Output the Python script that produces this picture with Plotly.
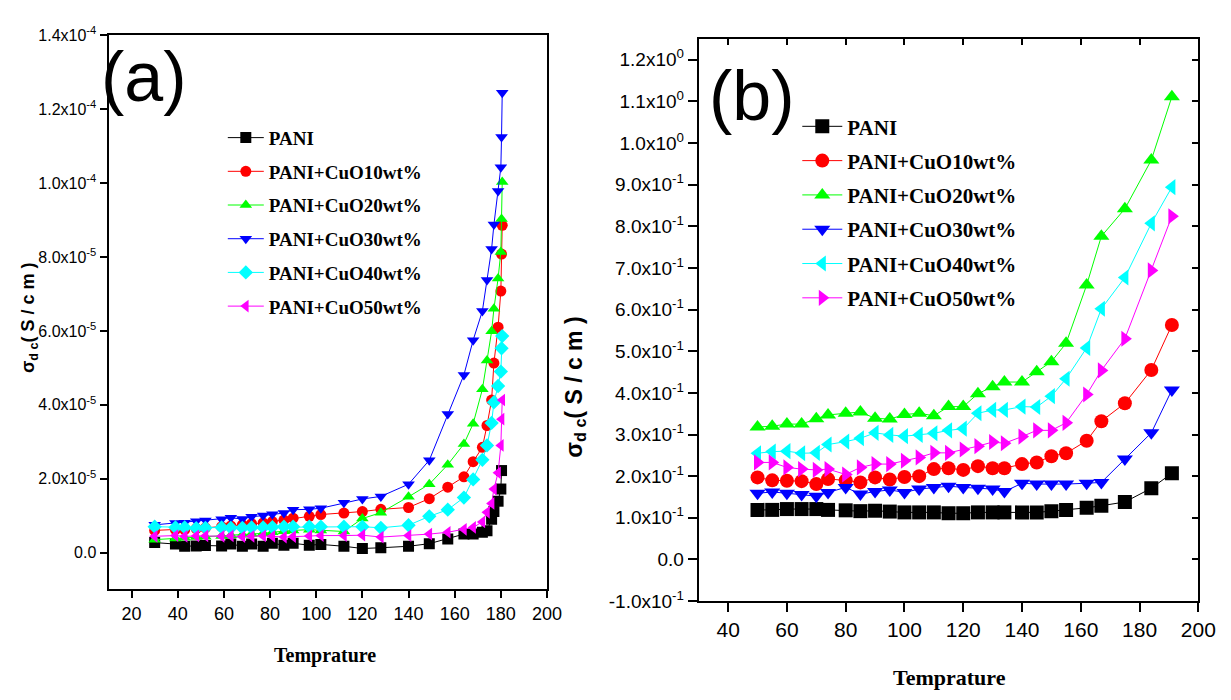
import plotly.graph_objects as go

W, H = 1231, 700

# ---------------- Panel (a) data (sigma_dc in units of 1e-5 S/cm) ----------------
TEMP_A = [30, 39, 43, 48, 52, 59, 63, 68, 72, 77, 81, 86, 90, 97, 102, 112, 120, 128,
          140, 149, 157, 164, 168, 172, 174, 176, 177, 178.8, 180, 180.3, 180.6]
PANI_A = [0.27, 0.23, 0.17, 0.18, 0.19, 0.18, 0.23, 0.17, 0.23, 0.17, 0.25, 0.20, 0.25, 0.20, 0.22,
          0.17, 0.11, 0.13, 0.17, 0.24, 0.37, 0.50, 0.50, 0.55, 0.59, 0.90, 1.11, 1.39, 1.72, 2.22]
CUO10_A = [0.60, 0.62, 0.62, 0.65, 0.67, 0.70, 0.72, 0.75, 0.78, 0.80, 0.84, 0.88, 0.93, 0.98, 1.03,
           1.07, 1.11, 1.17, 1.22, 1.46, 1.77, 2.05, 2.46, 2.85, 3.44, 4.13, 5.13, 6.10, 7.08, 8.08, 8.86]
CUO20_A = [0.35, 0.38, 0.40, 0.42, 0.43, 0.45, 0.47, 0.48, 0.50, 0.52, 0.55, 0.58, 0.60, 0.62, 0.60,
           0.57, 0.92, 1.08, 1.51, 1.85, 2.38, 2.94, 3.49, 4.42, 5.20, 5.99, 6.60, 7.42, 8.14, 9.03, 10.03]
CUO30_A = [0.75, 0.80, 0.81, 0.85, 0.87, 0.90, 0.94, 0.91, 0.97, 1.00, 1.04, 1.07, 1.16, 1.17, 1.20,
           1.35, 1.45, 1.52, 1.85, 2.50, 3.75, 4.81, 5.75, 6.54, 7.38, 8.22, 8.88, 9.79, 10.43, 11.25, 12.45]
CUO40_A = [0.70, 0.68, 0.68, 0.66, 0.67, 0.68, 0.67, 0.67, 0.68, 0.68, 0.69, 0.70, 0.70, 0.70, 0.70,
           0.70, 0.70, 0.67, 0.74, 0.98, 1.16, 1.49, 1.98, 2.51, 2.90, 3.51, 4.07, 4.51, 4.90, 5.53, 5.86]
CUO50_A = [0.44, 0.46, 0.44, 0.45, 0.45, 0.44, 0.45, 0.43, 0.44, 0.45, 0.44, 0.42, 0.43, 0.45, 0.46,
           0.46, 0.47, 0.42, 0.46, 0.50, 0.55, 0.63, 0.68, 0.83, 1.09, 1.33, 1.72, 2.16, 2.90, 3.61, 4.13]
UNIT_A = 1e-5

YTICKS_A = [0, 2e-5, 4e-5, 6e-5, 8e-5, 1.0e-4, 1.2e-4, 1.4e-4]
YLABELS_A = ["0.0", "2.0x10<sup>-5</sup>", "4.0x10<sup>-5</sup>", "6.0x10<sup>-5</sup>",
             "8.0x10<sup>-5</sup>", "1.0x10<sup>-4</sup>", "1.2x10<sup>-4</sup>", "1.4x10<sup>-4</sup>"]
XTICKS_A = [20, 40, 60, 80, 100, 120, 140, 160, 180, 200]

# ---------------- Panel (b) data (sigma_dc in S/cm) ----------------
TEMP_B = [50, 55, 60, 65, 70, 74, 80, 85, 90, 95, 100, 105, 110, 115, 120, 125, 130, 134,
          140, 145, 150, 155, 162, 167, 175, 184, 191]
PANI_B = [0.119, 0.119, 0.121, 0.121, 0.121, 0.119, 0.118, 0.116, 0.117, 0.115, 0.113, 0.113, 0.113,
          0.111, 0.111, 0.113, 0.113, 0.113, 0.113, 0.113, 0.116, 0.119, 0.124, 0.129, 0.138, 0.171, 0.207]
CUO10_B = [0.197, 0.190, 0.189, 0.188, 0.181, 0.193, 0.190, 0.185, 0.197, 0.192, 0.198, 0.200, 0.217,
           0.219, 0.215, 0.224, 0.219, 0.219, 0.229, 0.233, 0.248, 0.255, 0.285, 0.332, 0.375, 0.455, 0.563]
CUO20_B = [0.318, 0.320, 0.325, 0.325, 0.338, 0.347, 0.351, 0.354, 0.339, 0.337, 0.348, 0.351, 0.345,
           0.367, 0.367, 0.398, 0.415, 0.426, 0.426, 0.451, 0.475, 0.519, 0.659, 0.776, 0.842, 0.959, 1.111]
CUO30_B = [0.159, 0.162, 0.159, 0.156, 0.152, 0.161, 0.173, 0.157, 0.163, 0.167, 0.161, 0.169, 0.173,
           0.176, 0.173, 0.171, 0.169, 0.163, 0.183, 0.181, 0.181, 0.181, 0.183, 0.185, 0.241, 0.304, 0.407]
CUO40_B = [0.255, 0.259, 0.260, 0.255, 0.256, 0.276, 0.283, 0.291, 0.304, 0.299, 0.296, 0.299, 0.303,
           0.310, 0.314, 0.351, 0.359, 0.359, 0.367, 0.366, 0.392, 0.434, 0.508, 0.602, 0.677, 0.807, 0.894]
CUO50_B = [0.233, 0.233, 0.221, 0.217, 0.215, 0.217, 0.204, 0.221, 0.229, 0.229, 0.237, 0.245, 0.256,
           0.256, 0.264, 0.272, 0.282, 0.279, 0.295, 0.310, 0.310, 0.328, 0.396, 0.454, 0.530, 0.694, 0.824]

YTICKS_B = [-0.1, 0.0, 0.1, 0.2, 0.3, 0.4, 0.5, 0.6, 0.7, 0.8, 0.9, 1.0, 1.1, 1.2]
YLABELS_B = ["-1.0x10<sup>-1</sup>", "0.0", "1.0x10<sup>-1</sup>", "2.0x10<sup>-1</sup>",
             "3.0x10<sup>-1</sup>", "4.0x10<sup>-1</sup>", "5.0x10<sup>-1</sup>", "6.0x10<sup>-1</sup>",
             "7.0x10<sup>-1</sup>", "8.0x10<sup>-1</sup>", "9.0x10<sup>-1</sup>", "1.0x10<sup>0</sup>",
             "1.1x10<sup>0</sup>", "1.2x10<sup>0</sup>"]
XTICKS_B = [40, 60, 80, 100, 120, 140, 160, 180, 200]

NAMES = ["PANI", "PANI+CuO10wt%", "PANI+CuO20wt%", "PANI+CuO30wt%", "PANI+CuO40wt%", "PANI+CuO50wt%"]
COLORS = ["#000000", "#FF0000", "#00FF00", "#0000FF", "#00FFFF", "#FF00FF"]
SYMBOLS_A = ["square", "circle", "triangle-up", "triangle-down", "diamond", "triangle-left"]
SYMBOLS_B = ["square", "circle", "triangle-up", "triangle-down", "triangle-left", "triangle-right"]

TICK_FONT = "Liberation Sans Narrow, Arial Narrow, Liberation Sans, Arial, sans-serif"
SERIF_BOLD = "Liberation Serif, Times New Roman, serif"

fig = go.Figure()

series_a = [PANI_A, CUO10_A, CUO20_A, CUO30_A, CUO40_A, CUO50_A]
for i, vals in enumerate(series_a):
    fig.add_trace(go.Scatter(
        x=TEMP_A[:len(vals)], y=[v * UNIT_A for v in vals], name=NAMES[i],
        mode="lines+markers", xaxis="x", yaxis="y",
        line=dict(color=COLORS[i], width=1),
        marker=dict(symbol=SYMBOLS_A[i], size=11, color=COLORS[i]),
        legend="legend", legendgroup="a%d" % i,
    ))

series_b = [PANI_B, CUO10_B, CUO20_B, CUO30_B, CUO40_B, CUO50_B]
for i, vals in enumerate(series_b):
    fig.add_trace(go.Scatter(
        x=TEMP_B, y=vals, name=NAMES[i],
        mode="lines+markers", xaxis="x2", yaxis="y2",
        line=dict(color=COLORS[i], width=1),
        marker=dict(symbol=SYMBOLS_B[i], size=14, color=COLORS[i]),
        legend="legend2", legendgroup="b%d" % i,
    ))

# invisible carrier trace so the inward-pointing top/right tick axes of panel (b) get drawn
fig.add_trace(go.Scatter(x=TEMP_B, y=PANI_B, xaxis="x3", yaxis="y3", mode="markers",
                         marker=dict(opacity=0), showlegend=False, hoverinfo="skip"))


def px_x(p):
    return p / W


def px_y(p):
    return 1 - p / H


axis_common = dict(showline=True, linewidth=2, linecolor="black", showgrid=False, zeroline=False,
                   ticks="outside", tickwidth=2, tickcolor="black", mirror=True)
mirror_common = dict(showline=False, showgrid=False, zeroline=False, ticks="inside", ticklen=6,
                     tickwidth=2, tickcolor="black", showticklabels=False)

XR_B = [30, 200]
YR_B = [-0.1, 1.25]

fig.update_layout(
    width=W, height=H,
    margin=dict(l=0, r=0, t=0, b=0),
    paper_bgcolor="white", plot_bgcolor="white",
    xaxis=dict(domain=[px_x(102), px_x(547)], range=[10, 200], tickvals=XTICKS_A, ticklen=7,
               anchor="y", tickfont=dict(family=TICK_FONT, size=18, color="black"), **axis_common),
    yaxis=dict(domain=[px_y(589), px_y(17)], range=[-1e-5, 1.4e-4], tickvals=YTICKS_A,
               ticktext=YLABELS_A, ticklen=7, anchor="x",
               tickfont=dict(family=TICK_FONT, size=16, color="black"), **axis_common),
    xaxis2=dict(domain=[px_x(701), px_x(1208)], range=XR_B, tickvals=XTICKS_B, ticklen=9,
                anchor="y2", tickfont=dict(family=TICK_FONT, size=21, color="black"), **axis_common),
    yaxis2=dict(domain=[px_y(601), px_y(20.5)], range=YR_B, tickvals=YTICKS_B,
                ticktext=YLABELS_B, ticklen=9, anchor="x2",
                tickfont=dict(family=TICK_FONT, size=19, color="black"), **axis_common),
    xaxis3=dict(overlaying="x2", side="top", anchor="y2", range=XR_B, tickvals=XTICKS_B,
                **mirror_common),
    yaxis3=dict(overlaying="y2", side="right", anchor="x2", range=YR_B, tickvals=YTICKS_B,
                **mirror_common),
    legend=dict(x=px_x(218), y=px_y(103), xanchor="left", yanchor="top",
                bgcolor="rgba(0,0,0,0)", tracegroupgap=6, itemwidth=36,
                font=dict(family=SERIF_BOLD, size=19, color="black", weight="bold")),
    legend2=dict(x=px_x(801), y=px_y(90), xanchor="left", yanchor="top",
                 bgcolor="rgba(0,0,0,0)", tracegroupgap=4, itemwidth=40,
                 font=dict(family=SERIF_BOLD, size=21, color="black", weight="bold")),
    showlegend=True,
)

annotations = [
    dict(text="(a)", x=px_x(138), y=px_y(60)),
    dict(text="(b)", x=px_x(755), y=px_y(79)),
    dict(text="Temprature", x=px_x(322), y=px_y(657)),
    dict(text="Temprature", x=px_x(955), y=px_y(680)),
    dict(text="σ<sub>d c</sub>( S / c m )", x=px_x(22), y=px_y(308), textangle=-90),
    dict(text="σ<sub>d c</sub>( S / c m )", x=px_x(575), y=px_y(380), textangle=-90),
]
fonts = [
    dict(family=TICK_FONT, size=70, color="black"),
    dict(family=TICK_FONT, size=70, color="black"),
    dict(family=SERIF_BOLD, size=20, color="black", weight="bold"),
    dict(family=SERIF_BOLD, size=22, color="black", weight="bold"),
    dict(family="Liberation Sans, Arial, sans-serif", size=18, color="black", weight="bold"),
    dict(family="Liberation Sans, Arial, sans-serif", size=23, color="black", weight="bold"),
]
for a, f in zip(annotations, fonts):
    a.update(xref="paper", yref="paper", showarrow=False, xanchor="center", yanchor="middle", font=f)
fig.update_layout(annotations=annotations)

fig.write_html("out.html")
